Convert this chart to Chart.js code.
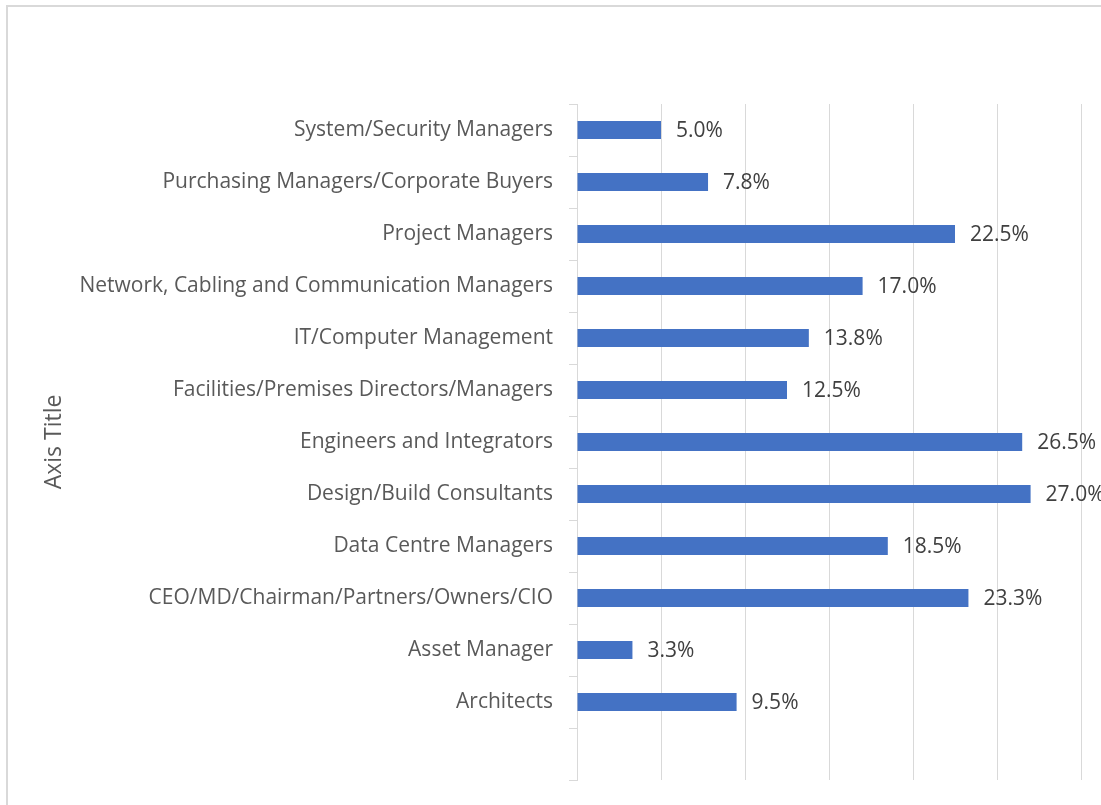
<!DOCTYPE html>
<html>
<head>
<meta charset="utf-8">
<script src="https://cdn.jsdelivr.net/npm/chart.js@4"></script>
<style>
    body { margin: 0; background: #fff; }
    #wrap { position: relative; width: 1101px; height: 805px; overflow: hidden; }
    #frame {
        position: absolute; left: 6px; top: 5px; width: 1200px; height: 900px;
        border-left: 2px solid #d9d9d9; border-top: 2px solid #d9d9d9;
    }
    canvas { position: absolute; left: 0; top: 0; }
</style>
</head>
<body>
<div id="wrap">
    <div id="frame"></div>
    <canvas id="BarChart" width="1101" height="805"></canvas>
</div>
<script>
// categories top to bottom, last one is the blank slot Excel left at the bottom
const categories = [
    'System/Security Managers',
    'Purchasing Managers/Corporate Buyers',
    'Project Managers',
    'Network, Cabling and Communication Managers',
    'IT/Computer Management',
    'Facilities/Premises Directors/Managers',
    'Engineers and Integrators',
    'Design/Build Consultants',
    'Data Centre Managers',
    'CEO/MD/Chairman/Partners/Owners/CIO',
    'Asset Manager',
    'Architects',
    ''
];

const percentValues = [5.0, 7.8, 22.5, 17.0, 13.8, 12.5, 26.5, 27.0, 18.5, 23.3, 3.3, 9.5, null];

const axisMin = 0;
const axisMax = 30;
const axisStep = 5;

const fontFamily = "'Open Sans', 'Noto Sans', sans-serif";

// draws "xx.x%" just past the end of each bar
const barLabels = {
    id: 'barLabels',
    afterDatasetsDraw(chart) {
        const ctx = chart.ctx;
        const meta = chart.getDatasetMeta(0);
        ctx.save();
        ctx.font = '21px ' + fontFamily;
        ctx.fillStyle = '#404040';
        ctx.textAlign = 'left';
        ctx.textBaseline = 'middle';
        meta.data.forEach((bar, i) => {
            const v = percentValues[i];
            if (v === null) return;
            ctx.fillText(v.toFixed(1) + '%', bar.x + 15, bar.y + 1);
        });
        ctx.restore();
    }
};

const ctx = document.getElementById('BarChart').getContext('2d');
const myChart = new Chart(ctx, {
    type: 'bar',
    data: {
        labels: categories,
        datasets: [{
            label: 'Series1',
            data: percentValues,
            backgroundColor: '#4472c4',
            borderWidth: 0,
            barPercentage: 0.35,
            categoryPercentage: 1
        }]
    },
    options: {
        indexAxis: 'y',
        responsive: false,
        animation: false,
        layout: {
            padding: { top: 104, bottom: 25, right: 20, left: 0 }
        },
        plugins: {
            legend: { display: false },
            tooltip: { enabled: false }
        },
        scales: {
            x: {
                min: axisMin,
                max: axisMax,
                ticks: {
                    display: false,
                    stepSize: axisStep
                },
                grid: {
                    color: '#d9d9d9',
                    lineWidth: 1,
                    drawTicks: false
                },
                border: { display: false },
                afterFit(scale) {
                    scale.height = 0;
                }
            },
            y: {
                ticks: {
                    color: '#595959',
                    padding: 16,
                    font: { family: fontFamily, size: 21 }
                },
                grid: {
                    drawOnChartArea: false,
                    drawTicks: true,
                    tickLength: 8,
                    offset: true,
                    color: '#d9d9d9'
                },
                border: { display: true, color: '#d9d9d9' },
                title: {
                    display: true,
                    text: 'Axis Title',
                    color: '#595959',
                    font: { family: fontFamily, size: 23 },
                    padding: { top: 41, bottom: 0 }
                },
                afterFit(scale) {
                    scale.width = 577;
                    scale.paddingTop = 0;
                    scale.paddingBottom = 0;
                }
            }
        }
    },
    plugins: [barLabels]
});
</script>
</body>
</html>
